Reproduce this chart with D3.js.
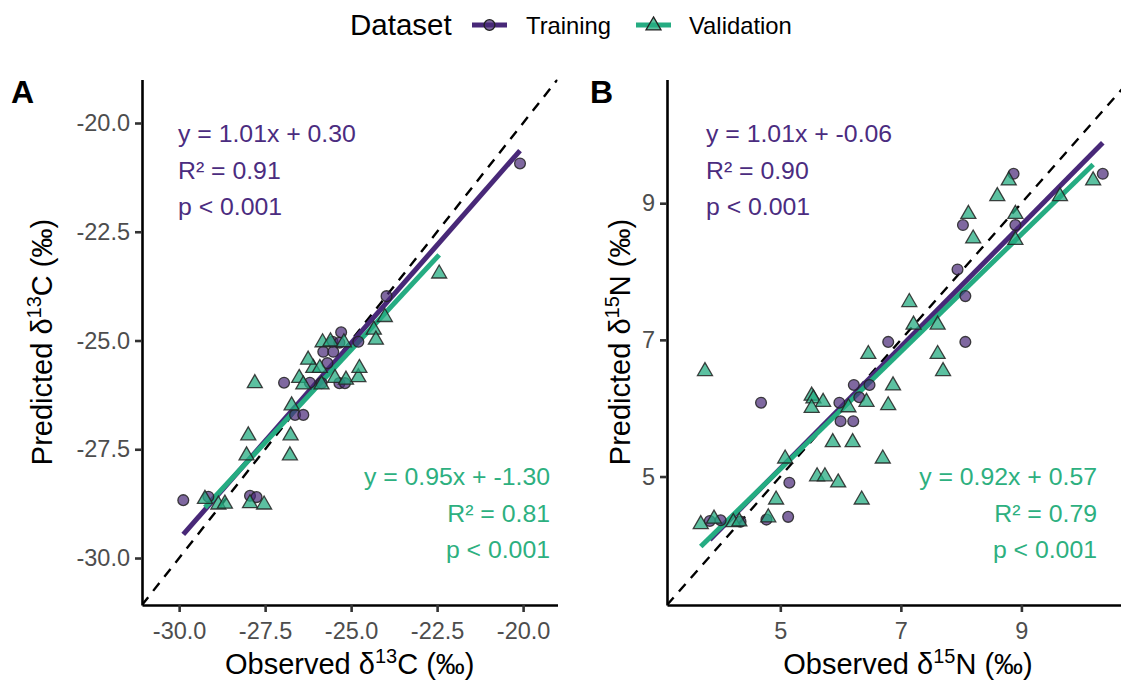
<!DOCTYPE html>
<html>
<head>
<meta charset="utf-8">
<script src="https://cdn.jsdelivr.net/npm/d3@7"></script>
<style>
  html, body { margin: 0; padding: 0; background: #ffffff; }
  svg { display: block; }
</style>
</head>
<body>
<svg id="chart" width="1121" height="686"></svg>
<script>
// ---- δ13C: observed vs predicted (‰) ----
const carbonTrainObs  = [-29.88, -29.15, -27.94, -27.75, -26.63, -26.39, -26.95, -26.20, -25.86, -25.34,
                         -25.18, -25.69, -25.81, -25.52, -25.54, -25.34, -25.29, -24.79, -23.97, -20.09];
const carbonTrainPred = [-28.67, -28.59, -28.57, -28.60, -26.71, -26.71, -25.97, -25.97, -25.98, -25.98,
                         -25.98, -25.52, -25.26, -25.26, -25.03, -25.05, -24.81, -25.03, -23.98, -20.93];
const carbonValObs    = [-29.25, -28.86, -28.67, -27.94, -27.53, -27.99, -28.04, -26.76, -26.78, -26.73,
                         -27.80, -26.51, -26.39, -25.86, -25.47, -25.15, -24.79, -24.76, -26.10, -25.91,
                         -26.25, -25.83, -25.60, -25.21, -24.34, -24.28, -24.02, -22.44];
const carbonValPred   = [-28.63, -28.76, -28.74, -28.73, -28.76, -27.17, -27.63, -27.17, -27.63, -26.48,
                         -25.97, -25.85, -26.00, -26.00, -25.85, -25.89, -25.83, -25.62, -25.62, -25.62,
                         -25.43, -25.03, -25.01, -25.03, -24.74, -24.97, -24.45, -23.45];

// ---- δ15N: observed vs predicted (‰) ----
const nitroTrainObs  = [8.87, 10.35, 8.03, 8.90, 7.94, 8.07, 6.79, 8.07, 6.22, 6.48, 4.68,
                        5.98, 6.31, 6.00, 6.21, 5.15, 5.13, 4.77, 3.83, 4.01, 4.34];
const nitroTrainPred = [9.43, 9.43, 8.68, 8.68, 8.03, 7.64, 6.97, 6.97, 6.34, 6.34, 6.08,
                        6.08, 6.16, 5.81, 5.81, 4.91, 4.41, 4.37, 4.35, 4.36, 4.34];
const nitroValObs    = [8.79, 8.60, 9.64, 10.19, 8.12, 8.90, 8.20, 8.90, 7.14, 7.21, 7.61, 6.46,
                        7.61, 7.70, 3.75, 6.87, 5.52, 5.55, 5.71, 5.52, 6.13, 6.43, 6.79, 5.87,
                        6.20, 6.70, 5.08, 5.61, 5.74, 5.96, 4.93, 6.35, 4.80, 3.68, 3.90, 4.22, 4.32];
const nitroValPred   = [9.34, 9.11, 9.11, 9.34, 8.85, 8.85, 8.49, 8.47, 7.56, 7.23, 7.23, 6.80,
                        6.80, 6.55, 6.55, 6.34, 6.19, 6.15, 6.10, 6.01, 6.02, 6.10, 6.05, 5.51,
                        5.51, 5.27, 5.27, 5.01, 5.01, 4.92, 4.67, 4.67, 4.41, 4.31, 4.39, 4.34, 4.35];

// Regression of observed on predicted: [slope, intercept, R²]
const carbonTrainCoef = [1.01, 0.30, 0.91];
const carbonValCoef   = [0.95, -1.30, 0.81];
const nitroTrainCoef  = [1.01, -0.06, 0.90];
const nitroValCoef    = [0.92, 0.57, 0.79];

// Axis limits and tick values
const carbonLimits = [-31.08, -19.0];
const nitroLimits  = [3.12, 10.81];
const carbonTicks  = [-30.0, -27.5, -25.0, -22.5, -20.0];
const nitroTicks   = [5, 7, 9];

const seriesNames = ["Training", "Validation"];

// ---- styling ----
const FONT = "'Liberation Sans', Arial, Helvetica, sans-serif";
const PURPLE = "#482878";
const GREEN = "#25AC82";
const PURPLE_TEXT = "#4B2C80";
const GREEN_TEXT = "#2DB07F";

const svg = d3.select("#chart");

// Text lines for a fit: equation, R² and p-value
function statLines(coef) {
  return [
    `y = ${coef[0].toFixed(2)}x + ${coef[1].toFixed(2)}`,
    `R\u00b2 = ${coef[2].toFixed(2)}`,
    "p < 0.001"
  ];
}

// Fitted line of predicted on observed. Its slope follows from the
// observed-on-predicted slope a and R² (b_yx = R² / a); it passes
// through the means of the series.
function smoothLine(xs, ys, coef) {
  const slope = coef[2] / coef[0];
  const mx = d3.mean(xs), my = d3.mean(ys);
  return { slope, intercept: my - slope * mx, x0: d3.min(xs), x1: d3.max(xs) };
}

function trianglePath(cx, cy, s) {
  const h = s * 0.866;
  return `M${cx},${cy - h * 0.62}L${cx + s / 2},${cy + h * 0.38}L${cx - s / 2},${cy + h * 0.38}Z`;
}

function drawPanel(cfg) {
  const x = d3.scaleLinear().domain(cfg.limits).range(cfg.xRange);
  const y = d3.scaleLinear().domain(cfg.limits).range([605, 79.5]);
  const g = svg.append("g");

  const clipId = "clip-" + cfg.id;
  svg.append("clipPath").attr("id", clipId)
    .append("rect")
    .attr("x", cfg.xRange[0]).attr("y", 79.5)
    .attr("width", cfg.xRange[1] - cfg.xRange[0]).attr("height", 605 - 79.5);

  const plot = g.append("g").attr("clip-path", `url(#${clipId})`);

  // 1:1 reference line
  plot.append("line")
    .attr("x1", x(cfg.limits[0])).attr("y1", y(cfg.limits[0]))
    .attr("x2", x(cfg.limits[1])).attr("y2", y(cfg.limits[1]))
    .attr("stroke", "#000").attr("stroke-width", 2.4)
    .attr("stroke-dasharray", "10,8");

  // fitted lines
  const fits = [
    { f: smoothLine(cfg.trainObs, cfg.trainPred, cfg.trainCoef), color: PURPLE },
    { f: smoothLine(cfg.valObs, cfg.valPred, cfg.valCoef), color: GREEN }
  ];
  fits.forEach(d => {
    plot.append("line")
      .attr("x1", x(d.f.x0)).attr("y1", y(d.f.intercept + d.f.slope * d.f.x0))
      .attr("x2", x(d.f.x1)).attr("y2", y(d.f.intercept + d.f.slope * d.f.x1))
      .attr("stroke", d.color).attr("stroke-width", 5);
  });

  // training points (circles)
  plot.selectAll("circle.train")
    .data(d3.zip(cfg.trainObs, cfg.trainPred))
    .join("circle")
    .attr("class", "train")
    .attr("cx", d => x(d[0])).attr("cy", d => y(d[1]))
    .attr("r", 5.4)
    .attr("fill", PURPLE).attr("fill-opacity", 0.7)
    .attr("stroke", "#222").attr("stroke-opacity", 0.85).attr("stroke-width", 1.3);

  // validation points (triangles)
  plot.selectAll("path.val")
    .data(d3.zip(cfg.valObs, cfg.valPred))
    .join("path")
    .attr("class", "val")
    .attr("d", d => trianglePath(x(d[0]), y(d[1]), 15))
    .attr("fill", GREEN).attr("fill-opacity", 0.75)
    .attr("stroke", "#222").attr("stroke-opacity", 0.85).attr("stroke-width", 1.3);

  // axes
  const fmt = cfg.fmt;
  const xAxis = g.append("g").attr("transform", "translate(0,605)")
    .call(d3.axisBottom(x).tickValues(cfg.ticks).tickFormat(fmt).tickSize(7).tickSizeOuter(0).tickPadding(5));
  const yAxis = g.append("g").attr("transform", `translate(${cfg.xRange[0]},0)`)
    .call(d3.axisLeft(y).tickValues(cfg.ticks).tickFormat(fmt).tickSize(7).tickSizeOuter(0).tickPadding(5));
  [xAxis, yAxis].forEach(a => {
    a.select(".domain").attr("stroke", "#000").attr("stroke-width", 2.6);
    a.selectAll(".tick line").attr("stroke", "#333").attr("stroke-width", 2.6);
    a.selectAll(".tick text").attr("fill", "#4D4D4D")
      .style("font-family", FONT).style("font-size", "23.5px");
  });
  xAxis.selectAll(".tick text").attr("dy", "0.95em");

  // axis titles
  const xt = g.append("text")
    .attr("x", (cfg.xRange[0] + Math.min(cfg.xRange[1], 1121)) / 2 + cfg.xTitleShift)
    .attr("y", 674)
    .attr("text-anchor", "middle")
    .style("font-family", FONT).style("font-size", "29px").attr("fill", "#000");
  xt.append("tspan").text("Observed \u03b4");
  xt.append("tspan").attr("baseline-shift", "super").style("font-size", "20px").text(cfg.iso);
  xt.append("tspan").text(cfg.elem + " (\u2030)");

  const yt = g.append("text")
    .attr("transform", `translate(${cfg.yTitleX},342) rotate(-90)`)
    .attr("text-anchor", "middle")
    .style("font-family", FONT).style("font-size", "29px").attr("fill", "#000");
  yt.append("tspan").text("Predicted \u03b4");
  yt.append("tspan").attr("baseline-shift", "super").style("font-size", "20px").text(cfg.iso);
  yt.append("tspan").text(cfg.elem + " (\u2030)");

  // panel tag
  g.append("text").attr("x", cfg.tagX).attr("y", 103)
    .style("font-family", FONT).style("font-size", "32px").style("font-weight", "bold")
    .text(cfg.tag);

  // statistics
  statLines(cfg.trainCoef).forEach((s, i) => {
    g.append("text").attr("x", cfg.xRange[0] + cfg.statsLeft).attr("y", 142 + i * 36.5)
      .style("font-family", FONT).style("font-size", "24.8px").attr("fill", PURPLE_TEXT)
      .text(s);
  });
  statLines(cfg.valCoef).forEach((s, i) => {
    g.append("text").attr("x", cfg.statsRight).attr("y", 485 + i * 36.5)
      .attr("text-anchor", "end")
      .style("font-family", FONT).style("font-size", "24.8px").attr("fill", GREEN_TEXT)
      .text(s);
  });
}

drawPanel({
  id: "c", tag: "A", tagX: 11, limits: carbonLimits, ticks: carbonTicks,
  xRange: [142, 557.5], fmt: d => d.toFixed(1),
  trainObs: carbonTrainObs, trainPred: carbonTrainPred,
  valObs: carbonValObs, valPred: carbonValPred,
  trainCoef: carbonTrainCoef, valCoef: carbonValCoef,
  iso: "13", elem: "C", yTitleX: 52, xTitleShift: 0,
  statsLeft: 36, statsRight: 550
});

drawPanel({
  id: "n", tag: "B", tagX: 590, limits: nitroLimits, ticks: nitroTicks,
  xRange: [667, 1130.5], fmt: d => String(d),
  trainObs: nitroTrainObs, trainPred: nitroTrainPred,
  valObs: nitroValObs, valPred: nitroValPred,
  trainCoef: nitroTrainCoef, valCoef: nitroValCoef,
  iso: "15", elem: "N", yTitleX: 630, xTitleShift: 14,
  statsLeft: 39, statsRight: 1097
});

// ---- legend ----
const legend = svg.append("g");
legend.append("text").attr("x", 350).attr("y", 35)
  .style("font-family", FONT).style("font-size", "29.5px").text("Dataset");

const keys = [
  { name: seriesNames[0], color: PURPLE, x0: 472, shape: "circle", tx: 526 },
  { name: seriesNames[1], color: GREEN, x0: 636, shape: "triangle", tx: 689 }
];
keys.forEach(k => {
  legend.append("line").attr("x1", k.x0).attr("x2", k.x0 + 35).attr("y1", 25).attr("y2", 25)
    .attr("stroke", k.color).attr("stroke-width", 5);
  if (k.shape === "circle") {
    legend.append("circle").attr("cx", k.x0 + 17.5).attr("cy", 25).attr("r", 5.4)
      .attr("fill", k.color).attr("fill-opacity", 0.7)
      .attr("stroke", "#222").attr("stroke-width", 1.3);
  } else {
    legend.append("path").attr("d", trianglePath(k.x0 + 17.5, 25, 15))
      .attr("fill", k.color).attr("fill-opacity", 0.75)
      .attr("stroke", "#222").attr("stroke-width", 1.3);
  }
  legend.append("text").attr("x", k.tx).attr("y", 34)
    .style("font-family", FONT).style("font-size", "23.8px").text(k.name);
});
</script>
</body>
</html>
